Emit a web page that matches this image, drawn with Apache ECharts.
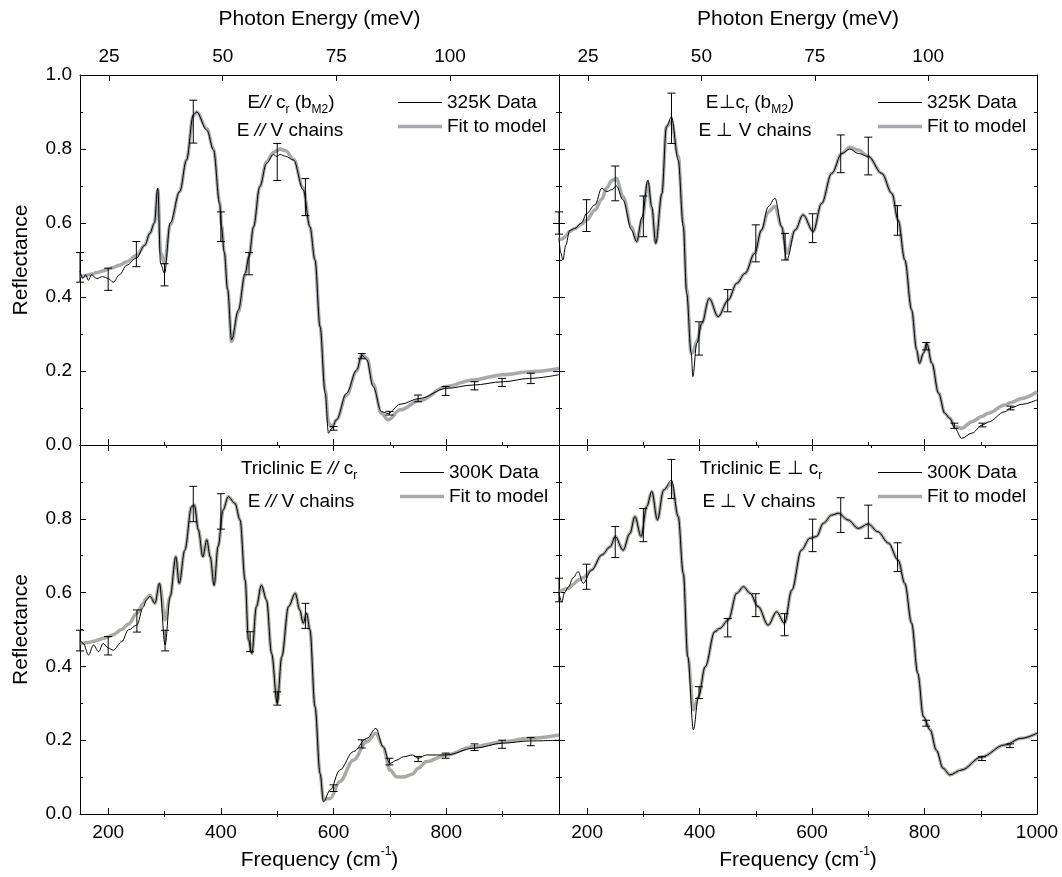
<!DOCTYPE html>
<html><head><meta charset="utf-8">
<script src="https://cdn.jsdelivr.net/npm/echarts@6/dist/echarts.min.js"></script>
<style>html,body{margin:0;padding:0;background:#fff}#c{width:1062px;height:877px}</style>
</head><body><div id="c"></div>
<script>
// ---------- DATA (frequency in cm^-1, reflectance) ----------
// Top-left: E // c_r (b_M2), 325 K
const tlFreq = [150,155,160,165,170,180,190,200,209,220,233,250,265,274,282,288,293,300,310,327,339,351,357,375,387,398,401,406,412,419,431,443,450,458,469,481,493,499,505,515,529,546,558,567,576,585,591,597,605,623,641,650,659,670,685,697,718,753,800,847,901,948,1000];
const tlData = [0.47,0.45,0.46,0.445,0.46,0.45,0.455,0.45,0.44,0.46,0.486,0.505,0.54,0.572,0.6,0.694,0.49,0.464,0.6,0.685,0.77,0.892,0.9,0.851,0.797,0.65,0.59,0.52,0.42,0.284,0.365,0.464,0.51,0.59,0.698,0.761,0.785,0.78,0.785,0.78,0.77,0.69,0.59,0.5,0.32,0.14,0.032,0.045,0.068,0.14,0.203,0.243,0.23,0.158,0.09,0.085,0.11,0.126,0.153,0.162,0.171,0.18,0.19];
const tlFit  = [0.455,0.456,0.458,0.46,0.462,0.466,0.47,0.475,0.48,0.486,0.495,0.512,0.54,0.572,0.6,0.69,0.52,0.49,0.595,0.685,0.77,0.89,0.9,0.855,0.8,0.655,0.595,0.525,0.42,0.28,0.36,0.46,0.51,0.59,0.698,0.765,0.79,0.795,0.8,0.795,0.772,0.695,0.59,0.5,0.32,0.15,0.06,0.048,0.068,0.135,0.2,0.243,0.235,0.165,0.085,0.068,0.095,0.12,0.158,0.176,0.19,0.198,0.207];
const tlErrFreq = [150,200,250,300,351,400,450,500,550,600,650,699,750,799,850,899,950];
const tlErrVal  = [0.48,0.448,0.516,0.46,0.874,0.59,0.49,0.765,0.67,0.045,0.24,0.086,0.126,0.146,0.16,0.169,0.18];
const tlErrHalf = [0.04,0.03,0.034,0.03,0.058,0.04,0.03,0.05,0.05,0.005,0.007,0.005,0.009,0.012,0.011,0.011,0.014];

// Top-right: E ⊥ c_r (b_M2), 325 K
const trFreq = [150,153,157,162,169,178,190,199,214,226,235,244,252,264,279,288,298,308,315,322,333,341,350,362,371,377,385,388,395,404,417,433,451,466,481,498,510,522,534,546,555,570,584,602,617,635,653,667,682,700,724,742,753,765,777,786,791,798,804,813,825,836,845,854,866,884,903,913,943,953,973,1000];
const trData = [0.56,0.52,0.5,0.54,0.58,0.585,0.6,0.626,0.649,0.694,0.685,0.69,0.7,0.662,0.581,0.55,0.617,0.716,0.644,0.545,0.68,0.86,0.887,0.77,0.59,0.41,0.25,0.185,0.275,0.329,0.396,0.347,0.392,0.437,0.464,0.518,0.581,0.644,0.667,0.59,0.5,0.581,0.622,0.577,0.653,0.734,0.788,0.8,0.788,0.78,0.734,0.68,0.608,0.5,0.365,0.257,0.221,0.248,0.275,0.221,0.14,0.086,0.072,0.045,0.018,0.032,0.054,0.062,0.09,0.1,0.11,0.122];
const trFit  = [0.554,0.556,0.558,0.565,0.577,0.585,0.597,0.608,0.635,0.665,0.695,0.715,0.72,0.671,0.59,0.55,0.61,0.71,0.64,0.545,0.68,0.86,0.874,0.78,0.6,0.42,0.248,0.25,0.28,0.329,0.396,0.347,0.392,0.437,0.464,0.518,0.58,0.63,0.645,0.59,0.518,0.581,0.622,0.577,0.653,0.734,0.788,0.805,0.797,0.78,0.734,0.68,0.608,0.5,0.365,0.257,0.221,0.248,0.275,0.221,0.14,0.086,0.072,0.05,0.045,0.063,0.078,0.086,0.108,0.114,0.126,0.144];
const trErrFreq = [150,199,250,300,350,399,450,500,552,601,651,700,752,803,853,903,953];
const trErrVal  = [0.6,0.62,0.707,0.618,0.883,0.288,0.39,0.545,0.536,0.586,0.787,0.781,0.607,0.267,0.052,0.054,0.1];
const trErrHalf = [0.03,0.043,0.047,0.055,0.068,0.045,0.03,0.05,0.036,0.039,0.051,0.051,0.04,0.01,0.007,0.005,0.005];

// Bottom-left: Triclinic E // c_r, 300 K
const blFreq = [150,156,165,174,183,191,200,209,224,236,251,262,268,274,283,291,301,310,320,326,336,348,353,360,368,375,381,388,395,404,413,425,434,443,449,455,463,472,481,490,500,508,520,532,540,546,552,558,567,576,582,594,611,635,659,675,688,700,712,724,740,750,765,800,848,901,948,1000];
const blData = [0.472,0.462,0.431,0.458,0.44,0.462,0.45,0.444,0.467,0.499,0.512,0.56,0.58,0.59,0.571,0.625,0.458,0.589,0.697,0.625,0.715,0.833,0.837,0.77,0.697,0.743,0.697,0.62,0.725,0.824,0.86,0.842,0.797,0.634,0.472,0.435,0.562,0.62,0.58,0.435,0.3,0.426,0.562,0.598,0.553,0.517,0.544,0.499,0.291,0.11,0.033,0.065,0.119,0.169,0.205,0.232,0.182,0.137,0.146,0.155,0.16,0.151,0.16,0.16,0.178,0.192,0.198,0.2];
const blFit  = [0.462,0.463,0.465,0.468,0.472,0.476,0.48,0.486,0.5,0.515,0.544,0.57,0.585,0.593,0.571,0.625,0.526,0.589,0.697,0.625,0.715,0.833,0.837,0.77,0.697,0.743,0.697,0.62,0.725,0.824,0.86,0.842,0.797,0.634,0.472,0.435,0.562,0.62,0.58,0.435,0.3,0.426,0.562,0.598,0.553,0.517,0.544,0.499,0.291,0.11,0.04,0.042,0.088,0.146,0.196,0.219,0.182,0.119,0.101,0.1,0.108,0.124,0.142,0.16,0.182,0.196,0.205,0.214];
const blErrFreq = [150,200,251,301,351,400,452,500,550,600,650,699,750,799,850,899,950];
const blErrVal  = [0.47,0.456,0.523,0.47,0.84,0.82,0.467,0.313,0.537,0.07,0.19,0.142,0.149,0.158,0.181,0.189,0.196];
const blErrHalf = [0.028,0.025,0.03,0.028,0.048,0.048,0.027,0.018,0.034,0.009,0.011,0.009,0.007,0.007,0.009,0.011,0.011];

// Bottom-right: Triclinic E ⊥ c_r, 300 K
const brFreq = [150,155,160,167,175,184,193,208,226,241,250,264,276,285,296,306,315,325,336,350,362,371,379,389,398,410,427,436,451,466,478,490,504,522,537,551,564,581,596,608,620,635,647,664,682,700,717,736,753,765,777,788,798,810,821,833,845,865,902,942,972,1000];
const brData = [0.598,0.575,0.6,0.616,0.64,0.657,0.625,0.661,0.702,0.724,0.752,0.715,0.76,0.806,0.752,0.833,0.874,0.797,0.878,0.905,0.806,0.652,0.426,0.228,0.318,0.399,0.494,0.503,0.526,0.598,0.616,0.598,0.562,0.512,0.548,0.517,0.607,0.715,0.747,0.752,0.788,0.81,0.815,0.797,0.774,0.786,0.765,0.734,0.688,0.625,0.517,0.381,0.264,0.228,0.173,0.124,0.106,0.119,0.155,0.187,0.205,0.219];
const brFit  = [0.603,0.606,0.609,0.612,0.622,0.634,0.64,0.661,0.702,0.724,0.752,0.715,0.76,0.806,0.752,0.833,0.874,0.797,0.878,0.895,0.806,0.652,0.426,0.282,0.318,0.399,0.494,0.503,0.526,0.598,0.616,0.598,0.562,0.512,0.548,0.517,0.607,0.715,0.747,0.752,0.788,0.81,0.815,0.797,0.774,0.786,0.765,0.734,0.688,0.625,0.517,0.381,0.264,0.228,0.173,0.124,0.106,0.119,0.155,0.187,0.205,0.219];
const brErrFreq = [150,199,250,300,350,399,450,500,551,601,651,700,752,803,902,952];
const brErrVal  = [0.607,0.643,0.737,0.783,0.908,0.329,0.505,0.566,0.513,0.755,0.81,0.792,0.696,0.246,0.15,0.185];
const brErrHalf = [0.032,0.034,0.042,0.045,0.053,0.016,0.025,0.031,0.03,0.044,0.047,0.045,0.039,0.008,0.005,0.005];

// axis ticks / labels
const freqMajor = [200,400,600,800,1000];
const freqMinor = [300,500,700,900];
const freqLabelsLeft = [200,400,600,800];
const freqLabelsRight = [200,400,600,800,1000];
const mevMajor = [25,50,75,100];
const mevMinor = [37.5,62.5,87.5,112.5];
const mevLabels = [25,50,75,100];
const legendNames = ['325K Data','325K Data','300K Data','300K Data'];
const fitName = 'Fit to model';

// ---------- CHART ----------
const FONT = "'Liberation Sans', Arial, sans-serif";
const MEV = 8.0655; // cm^-1 per meV
const FMIN = 150, FMAX = 1000;

const panels = [
  {grid:{left:80,top:75,width:479,height:370}, f:tlFreq,d:tlData,fit:tlFit, ef:tlErrFreq,ev:tlErrVal,eh:tlErrHalf, isTop:true,isLeft:true, fitColor:'#a6a9ad'},
  {grid:{left:559,top:75,width:478,height:370}, f:trFreq,d:trData,fit:trFit, ef:trErrFreq,ev:trErrVal,eh:trErrHalf, isTop:true,isLeft:false, fitColor:'#a6a9ad'},
  {grid:{left:80,top:445,width:479,height:369}, f:blFreq,d:blData,fit:blFit, ef:blErrFreq,ev:blErrVal,eh:blErrHalf, isTop:false,isLeft:true, fitColor:'#aaa9a4'},
  {grid:{left:559,top:445,width:478,height:369}, f:brFreq,d:brData,fit:brFit, ef:brErrFreq,ev:brErrVal,eh:brErrHalf, isTop:false,isLeft:false, fitColor:'#aaa9a4'}
];

const lineBlack = {show:true, onZero:false, lineStyle:{color:'#000', width:1}};
const tickStyle = {color:'#000', width:1};
const labelStyle = {color:'#000', fontSize:19, fontFamily:FONT};
const nameStyle = {color:'#000', fontSize:21, fontFamily:FONT};

const xAxes = [], yAxes = [], series = [];
panels.forEach((p, g) => {
  // bottom major
  xAxes.push({type:'value', gridIndex:g, position:'bottom', min:FMIN, max:FMAX,
    splitLine:{show:false}, axisLine:lineBlack,
    axisTick:{show:true, inside:true, length:6, lineStyle:tickStyle, customValues:freqMajor},
    axisLabel: p.isTop ? {show:false} : Object.assign({show:true, margin:9, formatter:v=>String(v), customValues: p.isLeft ? freqLabelsLeft : freqLabelsRight}, labelStyle),
    name: p.isTop ? '' : '{n|Frequency (cm}{s|-1}{n|)}',
    nameLocation:'middle', nameGap:32,
    nameTextStyle:{rich:{n:Object.assign({lineHeight:28, verticalAlign:'middle'}, nameStyle), s:{fontSize:12, fontFamily:FONT, color:'#000', lineHeight:28, verticalAlign:'top'}}}
  });
  // bottom minor
  xAxes.push({type:'value', gridIndex:g, position:'bottom', min:FMIN, max:FMAX,
    splitLine:{show:false}, axisLine:{show:false},
    axisTick:{show:true, inside:true, length:3, lineStyle:tickStyle, customValues:freqMinor},
    axisLabel:{show:false}});
  if (p.isTop) {
    xAxes.push({type:'value', gridIndex:g, position:'top', min:FMIN/MEV, max:FMAX/MEV,
      splitLine:{show:false}, axisLine:lineBlack,
      axisTick:{show:true, inside:true, length:6, lineStyle:tickStyle, customValues:mevMajor},
      axisLabel:Object.assign({show:true, margin:9, formatter:v=>String(v), customValues:mevLabels}, labelStyle),
      name:'Photon Energy (meV)', nameLocation:'middle', nameGap:45, nameTextStyle:nameStyle});
    xAxes.push({type:'value', gridIndex:g, position:'top', min:FMIN/MEV, max:FMAX/MEV,
      splitLine:{show:false}, axisLine:{show:false},
      axisTick:{show:true, inside:true, length:3, lineStyle:tickStyle, customValues:mevMinor},
      axisLabel:{show:false}});
  } else {
    xAxes.push({type:'value', gridIndex:g, position:'top', min:FMIN, max:FMAX,
      splitLine:{show:false}, axisLine:lineBlack,
      axisTick:{show:true, inside:true, length:6, lineStyle:tickStyle, customValues:freqMajor},
      axisLabel:{show:false}});
    xAxes.push({type:'value', gridIndex:g, position:'top', min:FMIN, max:FMAX,
      splitLine:{show:false}, axisLine:{show:false},
      axisTick:{show:true, inside:true, length:3, lineStyle:tickStyle, customValues:freqMinor},
      axisLabel:{show:false}});
  }
  const yBase = {type:'value', gridIndex:g, min:0, max:1, interval:0.2,
    splitLine:{show:false}, minorSplitLine:{show:false}, axisLine:lineBlack,
    axisTick:{show:true, inside:true, length:6, lineStyle:tickStyle},
    minorTick:{show:true, splitNumber:2, length:3, lineStyle:tickStyle}};
  yAxes.push(Object.assign({}, yBase, {position:'left',
    axisLabel: p.isLeft ? Object.assign({show:true, margin:8, showMaxLabel:p.isTop, formatter:v=>v.toFixed(1)}, labelStyle) : {show:false},
    name: p.isLeft ? 'Reflectance' : '', nameLocation:'middle', nameGap:48, nameTextStyle:nameStyle}));
  yAxes.push(Object.assign({}, yBase, {position:'right', axisLabel:{show:false}}));

  const xi = g*4, yi = g*2;
  series.push({type:'line', name:fitName, xAxisIndex:xi, yAxisIndex:yi, showSymbol:false, symbol:'none',
    smooth:0.35, smoothMonotone:'x', lineStyle:{color:p.fitColor, width:3.5}, itemStyle:{color:p.fitColor},
    data:p.f.map((x,i)=>[x,p.fit[i]]), z:2, animation:false});
  series.push({type:'line', name:legendNames[g], xAxisIndex:xi, yAxisIndex:yi, showSymbol:false, symbol:'none',
    smooth:0.35, smoothMonotone:'x', lineStyle:{color:'#000', width:1}, itemStyle:{color:'#000'},
    data:p.f.map((x,i)=>[x,p.d[i]]), z:3, animation:false});
  series.push({type:'custom', xAxisIndex:xi, yAxisIndex:yi, z:4, clip:false, silent:true, animation:false,
    encode:{x:0, y:1},
    data:p.ef.map((x,i)=>[x,p.ev[i],p.eh[i]]),
    renderItem:(params, api) => {
      const x = api.value(0), c = api.value(1), h = api.value(2);
      const lo = api.coord([x, c-h]), hi = api.coord([x, c+h]);
      const w = 4, st = {stroke:'#000', lineWidth:1};
      return {type:'group', children:[
        {type:'line', shape:{x1:lo[0], y1:lo[1], x2:hi[0], y2:hi[1]}, style:st},
        {type:'line', shape:{x1:lo[0]-w, y1:lo[1], x2:lo[0]+w, y2:lo[1]}, style:st},
        {type:'line', shape:{x1:hi[0]-w, y1:hi[1], x2:hi[0]+w, y2:hi[1]}, style:st}
      ]};
    }});
});

const legendPos = [{left:398, top:93},{left:878, top:93},{left:400, top:463},{left:878, top:463}];
const legends = legendPos.map((pos, g) => ({
  orient:'vertical', left:pos.left, top:pos.top, padding:0, itemGap:5,
  itemWidth:44, itemHeight:19, selectedMode:false,
  data:[
    {name:legendNames[g], icon:'path://M0,0H44V1H0Z'},
    {name:fitName, icon:'path://M0,0H44V3.5H0Z'}
  ],
  textStyle:{color:'#000', fontSize:19, fontFamily:FONT}
}));

const tok = {fontSize:19, fontFamily:FONT, fill:'#000', lineHeight:26, verticalAlign:'middle'};
const rich = {
  n: tok,
  i: Object.assign({}, tok, {fontStyle:'italic'}),
  s: {fontSize:12, fontFamily:FONT, fill:'#000', lineHeight:26, verticalAlign:'bottom'}
};
function ann(x, y, text) {
  return {type:'text', x:x, y:y, silent:true, z:10,
    style:{text:text, rich:rich, align:'center', verticalAlign:'middle', fill:'#000', font:'19px ' + FONT}};
}
const graphics = [
  ann(291, 103, '{n|E}{i|//}{n| c}{s|r}{n| (b}{s|M2}{n|)}'),
  ann(290, 131, '{n|E }{i|//}{n| V chains}'),
  ann(750, 103, '{n|E⊥c}{s|r}{n| (b}{s|M2}{n|)}'),
  ann(755, 131, '{n|E ⊥ V chains}'),
  ann(299, 469, '{n|Triclinic E }{i|//}{n| c}{s|r}'),
  ann(301, 502, '{n|E }{i|//}{n| V chains}'),
  ann(761, 469, '{n|Triclinic E ⊥ c}{s|r}'),
  ann(759, 502, '{n|E ⊥ V chains}')
];

const chart = echarts.init(document.getElementById('c'), null, {renderer:'canvas'});
chart.setOption({
  backgroundColor:'#fff',
  animation:false,
  grid: panels.map(p => Object.assign({containLabel:false}, p.grid)),
  xAxis: xAxes,
  yAxis: yAxes,
  legend: legends,
  graphic: graphics,
  series: series
});
</script>
</body></html>
